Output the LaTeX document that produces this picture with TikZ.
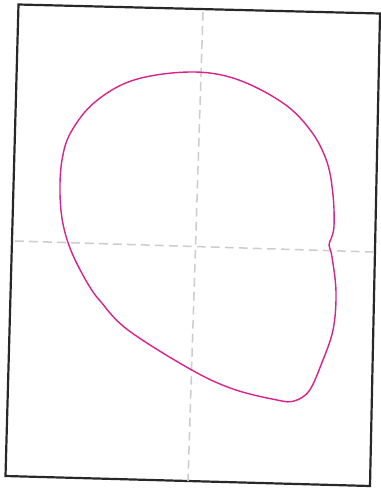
\documentclass[tikz,border=0pt]{standalone}
\usetikzlibrary{calc}
\definecolor{curvemag}{RGB}{218,34,142}
\definecolor{axisgray}{RGB}{205,205,205}
\definecolor{framegray}{RGB}{40,40,40}
\begin{document}
\begin{tikzpicture}[x=0.25mm,y=-0.25mm,
  frameline/.style={draw=framegray,line width=0.55mm,line join=miter},
  axisline/.style={draw=axisgray,line width=0.38mm,dash pattern=on 2.2mm off 1.3mm},
  curveline/.style={draw=curvemag,line width=0.35mm}]
\useasboundingbox[fill=white] (0,0) rectangle (381,489);
% frame corners
\coordinate (tl) at (18.5,4.5);
\coordinate (tr) at (380,13.5);
\coordinate (br) at (370,486);
\coordinate (bl) at (5.5,476);
\draw[frameline] (tl) -- (tr) -- (br) -- (bl) -- cycle;
% axes
\coordinate (hl) at (15,241);
\coordinate (hr) at (374,252);
\coordinate (vt) at (203,12);
\coordinate (vb) at (188,481);
\draw[axisline] (hl) -- (hr);
\draw[axisline] (vt) -- (vb);
% curve
\draw[curveline] plot[smooth cycle,tension=0.6] coordinates {
 (190,72) (236,79) (283,103) (311,131) (327,162) (333,195) (334,226)
 (331,239) (329,245) (332,257) (336,292) (333,330) (321,365) (309,391)
 (294,401) (277,400) (233,389) (190,369) (128,330) (101,302) (88,284)
 (72,253) (63,224) (60,193) (62,160) (71,132) (95,102) (134,80)};
\end{tikzpicture}
\end{document}
